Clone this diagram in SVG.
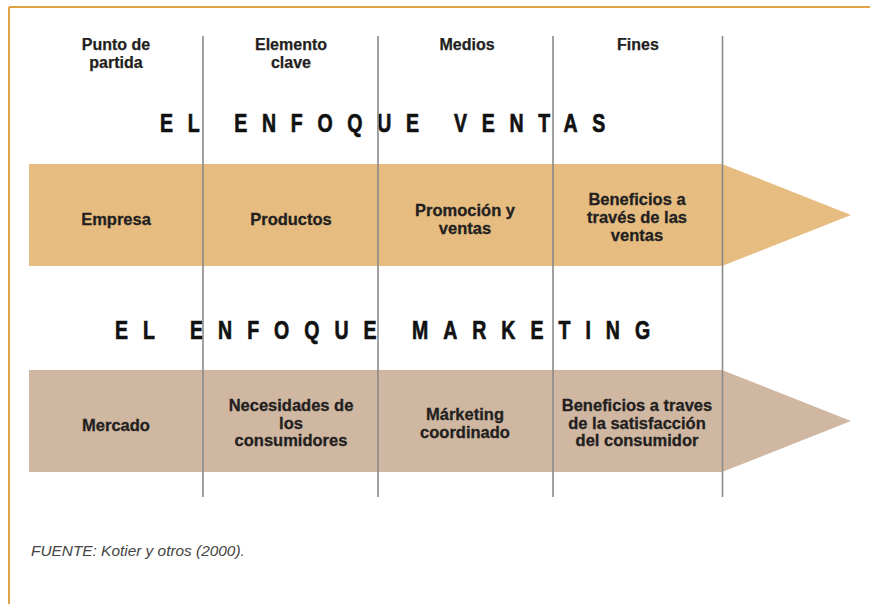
<svg xmlns="http://www.w3.org/2000/svg" width="870" height="604" viewBox="0 0 870 604">
<style>
.hdr{font-family:"Liberation Sans",Arial,sans-serif;font-weight:bold;font-size:16px;fill:#231f20;stroke:#231f20;stroke-width:0.25;text-anchor:middle}
.cell{font-family:"Liberation Sans",Arial,sans-serif;font-weight:bold;font-size:16.5px;fill:#231f20;stroke:#231f20;stroke-width:0.3;text-anchor:middle}
.title{font-family:"Liberation Sans",Arial,sans-serif;font-weight:bold;font-size:25px;fill:#111;stroke:#111;stroke-width:0.7}
.div{stroke:#8a8a8a;stroke-width:1.6;fill:none}
.foot{font-family:"Liberation Sans",Arial,sans-serif;font-style:italic;font-size:15.4px;fill:#444}
</style>
<rect width="870" height="604" fill="#fff"/>
<g id="frame" fill="none" stroke="#e0a245" stroke-width="2">
<line x1="9" y1="7" x2="870" y2="7"/>
<line x1="9" y1="7" x2="9" y2="604"/>
</g>
<g id="headers">
<text class="hdr" x="116" y="50">Punto de</text>
<text class="hdr" x="116" y="68">partida</text>
<text class="hdr" x="291" y="50">Elemento</text>
<text class="hdr" x="291" y="68">clave</text>
<text class="hdr" x="467" y="50">Medios</text>
<text class="hdr" x="638" y="50">Fines</text>
</g>
<g id="title-ventas" transform="translate(160,132) scale(0.78,1)">
<text class="title" x="0" y="0" textLength="571" lengthAdjust="spacing">EL ENFOQUE VENTAS</text>
</g>
<g id="arrow-ventas">
<polygon points="29,164 722,164 851,215 722,266 29,266" fill="#e6bc80"/>
</g>
<g id="title-marketing" transform="translate(115,339) scale(0.78,1)">
<text class="title" x="0" y="0" textLength="686" lengthAdjust="spacing">EL ENFOQUE MARKETING</text>
</g>
<g id="arrow-marketing">
<polygon points="29,370 722,370 851,421 722,472 29,472" fill="#d0b7a2"/>
</g>
<g id="connectors">
<line class="div" x1="203" y1="36" x2="203" y2="497"/>
<line class="div" x1="378" y1="36" x2="378" y2="497"/>
<line class="div" x1="553" y1="36" x2="553" y2="497"/>
<line class="div" x1="722.5" y1="36" x2="722.5" y2="497"/>
</g>
<g id="n-empresa"><text class="cell" x="116" y="225">Empresa</text></g>
<g id="n-productos"><text class="cell" x="291" y="225">Productos</text></g>
<g id="n-promocion"><text class="cell" x="465" y="216">Promoción y</text><text class="cell" x="465" y="234">ventas</text></g>
<g id="n-beneficios-ventas"><text class="cell" x="637" y="205">Beneficios a</text><text class="cell" x="637" y="223">través de las</text><text class="cell" x="637" y="241">ventas</text></g>
<g id="n-mercado"><text class="cell" x="116" y="431">Mercado</text></g>
<g id="n-necesidades"><text class="cell" x="291" y="411">Necesidades de</text><text class="cell" x="291" y="429">los</text><text class="cell" x="291" y="446">consumidores</text></g>
<g id="n-marketing"><text class="cell" x="465" y="420">Márketing</text><text class="cell" x="465" y="438">coordinado</text></g>
<g id="n-beneficios-satisf"><text class="cell" x="637" y="411">Beneficios a traves</text><text class="cell" x="637" y="429">de la satisfacción</text><text class="cell" x="637" y="446">del consumidor</text></g>
<text class="foot" x="31" y="556">FUENTE: Kotier y otros (2000).</text>
</svg>
